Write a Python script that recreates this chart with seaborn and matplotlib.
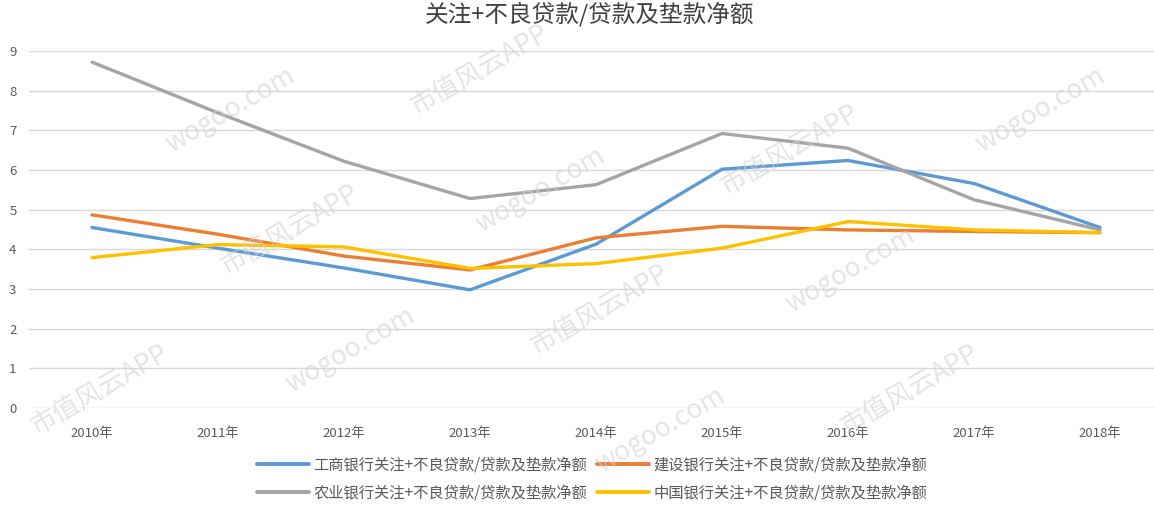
import numpy as np
import pandas as pd
import matplotlib
matplotlib.use("Agg")
import matplotlib.pyplot as plt
import seaborn as sns

# ==========================================
# Data
# ==========================================
years = ["2010年", "2011年", "2012年", "2013年", "2014年",
         "2015年", "2016年", "2017年", "2018年"]
suffix = "关注+不良贷款/贷款及垫款净额"
icbc = [4.55, 4.03, 3.53, 2.98, 4.13, 6.02, 6.24, 5.66, 4.55]
ccb = [4.87, 4.38, 3.83, 3.48, 4.29, 4.58, 4.49, 4.45, 4.42]
abc = [8.72, 7.44, 6.22, 5.28, 5.63, 6.92, 6.55, 5.25, 4.49]
boc = [3.79, 4.12, 4.06, 3.52, 3.64, 4.03, 4.70, 4.49, 4.42]
banks = ["工商银行", "建设银行", "农业银行", "中国银行"]
colors = ["#5B9BD5", "#ED7D31", "#A5A5A5", "#FFC000"]

sns.set_theme(style="white")
plt.rcParams['font.family'] = ['Noto Sans CJK SC', 'DejaVu Sans']

series = dict(zip(banks, [icbc, ccb, abc, boc]))
rows = []
for bank, vals in series.items():
    for i, v in enumerate(vals):
        rows.append({"x": i, "year": years[i], "value": v, "bank": bank + suffix})
df = pd.DataFrame(rows)

W, H = 1154, 518
fig = plt.figure(figsize=(W / 100, H / 100), dpi=100)
ax = fig.add_axes([29 / W, (H - 408) / H, (W - 29) / W, (408 - 51) / H])

sns.lineplot(data=df, x="x", y="value", hue="bank",
             palette=colors, linewidth=2.4, ax=ax, legend=False, zorder=3)

ax.set_xlim(-0.5, (W - 92) / 126)
ax.set_ylim(0, 9)
ax.set_yticks(range(10))
ax.set_xticks(range(len(years)))
ax.set_xticklabels(years)
ax.tick_params(axis="both", colors="#595959", labelsize=9.5, length=0)
ax.tick_params(axis="x", pad=14)
ax.tick_params(axis="y", pad=9)
ax.set_xlabel("")
ax.set_ylabel("")
ax.grid(axis="y", color="#D9D9D9", linewidth=1.0)
ax.set_axisbelow(True)
for s in ax.spines.values():
    s.set_visible(False)

fig.text(590 / W, 1 - 2 / H, suffix, ha="center", va="top",
         fontsize=17, color="#404040")

# legend: row 1 工商 / 建设, row 2 农业 / 中国
handles = [plt.Line2D([], [], color=c, linewidth=2.8) for c in colors]
labels = [b + suffix for b in banks]
order = [0, 2, 1, 3]
fig.legend([handles[i] for i in order], [labels[i] for i in order],
           ncol=2, loc="center", bbox_to_anchor=(592 / W, 1 - 479 / H),
           frameon=False, fontsize=11, handlelength=3.4, handletextpad=0.3,
           columnspacing=0.6, labelspacing=0.7,
           labelcolor="#595959")

# watermark, only the copies that fit fully inside the picture
marks = []
for r in range(-1, 6):
    for c in range(-1, 6):
        x0 = c * 250 + r * 60 - 20
        y0 = 150 + r * 120 - c * 40
        txt = "市值风云APP" if (r + c) % 2 == 0 else "wogoo.com"
        marks.append(fig.text(x0 / W, 1 - y0 / H, txt, rotation=30, fontsize=19,
                              color="#CFCFCF", alpha=0.55, ha="center",
                              va="center", zorder=10))
fig.canvas.draw()
renderer = fig.canvas.get_renderer()
for t in marks:
    bb = t.get_window_extent(renderer)
    if bb.x0 < 0 or bb.y0 < 0 or bb.x1 > W or bb.y1 > H:
        t.remove()

fig.savefig("out.png", dpi=100)
